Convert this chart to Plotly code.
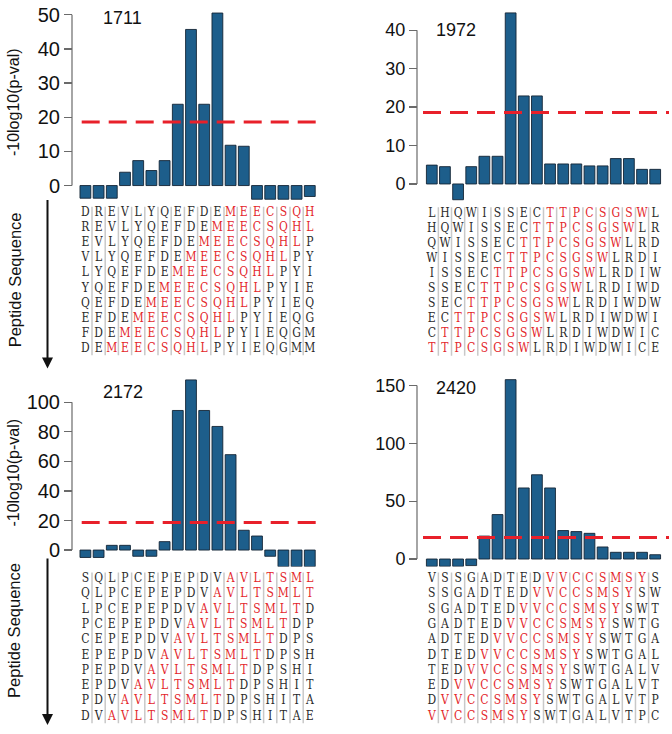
import plotly.graph_objects as go

# ---------------- data ----------------
panel_ids = ["1711", "1972", "2172", "2420"]

seq_1711 = "DREVLYQEFDEMEECSQHLPYIEQGMM"
seq_1972 = "LHQWISSECTTPCSGSWLRDIWDWICE"
seq_2172 = "SQLPCEPEPDVAVLTSMLTDPSHITAE"
seq_2420 = "VSSGADTEDVVCCSMSYSWTGALVTPC"

epitope_1711 = "MEECSQHL"
epitope_1972 = "TTPCSGSW"
epitope_2172 = "AVLTSMLT"
epitope_2420 = "VVCCSMSY"

vals_1711 = [-3.7, -3.7, -3.7, 3.9, 7.3, 4.4, 7.3, 23.8, 45.7, 23.8, 50.5, 11.8, 11.5,
             -4.0, -4.0, -4.0, -4.0, -3.2]
vals_1972 = [4.9, 4.5, -4.1, 4.5, 7.2, 7.2, 44.5, 22.9, 22.9, 5.2, 5.2, 5.2, 4.7, 4.7,
             6.6, 6.6, 3.8, 3.8]
vals_2172 = [-5.0, -5.0, 3.2, 3.2, -4.2, -4.2, 5.7, 94.5, 115.2, 94.5, 83.7, 64.6, 13.4,
             9.5, -4.2, -11.2, -11.2, -11.2]
vals_2420 = [-6.3, -6.3, -6.3, -5.7, 19.8, 38.4, 155.0, 61.4, 72.8, 61.4, 24.6, 23.7,
             22.2, 10.4, 5.8, 5.8, 5.8, 3.7]

ticks_1711 = [0, 10, 20, 30, 40, 50]
ticks_1972 = [0, 10, 20, 30, 40]
ticks_2172 = [0, 20, 40, 60, 80, 100]
ticks_2420 = [0, 50, 100, 150]

threshold = 18.6
n_cols = 18
n_rows = 10
y_title = "-10log10(p-val)"
seq_title = "Peptide Sequence"

# ---------------- style / layout ----------------
W, H = 672, 734
BAR = "#1d5e8b"
EDGE = "#142536"
AXC = "#6a6a6a"
RED = "#e8202a"
SEQ_RED = "#e3262b"
SEQ_BLK = "#2a2a2a"
SEP = "#c9c9c9"
SANS = "Arial, Liberation Sans, sans-serif"
MONO = "DejaVu Serif Condensed, DejaVu Serif, serif"


def pxx(px):
    return px / W


def pxy(py):
    return 1 - py / H


LEFT = dict(c1=85.4, pitch=13.2, axis=72.0, xl=58, xr=326, red=(81.7, 321.7), tick=20,
            title_x=123)
RIGHT = dict(c1=431.8, pitch=13.14, axis=417.0, xl=403, xr=672, red=(423.0, 669.0), tick=18,
             title_x=456)

panels = [
    dict(pid=panel_ids[0], seq=seq_1711, epi=epitope_1711, vals=vals_1711, ticks=ticks_1711,
         col=LEFT, zero=183.3, scale=3.43, yt=4, yb=201, row0=211.0, sp=15.15, gt=200, gb=362,
         title_y=15, left=True, ytitle_y=100, arrow=(197, 367), seq_y=278),
    dict(pid=panel_ids[1], seq=seq_1972, epi=epitope_1972, vals=vals_1972, ticks=ticks_1972,
         col=RIGHT, zero=181.7, scale=3.86, yt=4, yb=203, row0=211.5, sp=15.15, gt=200, gb=362,
         title_y=27, left=False),
    dict(pid=panel_ids[2], seq=seq_2172, epi=epitope_2172, vals=vals_2172, ticks=ticks_2172,
         col=LEFT, zero=549.3, scale=1.483, yt=372, yb=570, row0=578.3, sp=15.38, gt=566, gb=729,
         title_y=391, left=True, ytitle_y=472, arrow=(557, 725), seq_y=630),
    dict(pid=panel_ids[3], seq=seq_2420, epi=epitope_2420, vals=vals_2420, ticks=ticks_2420,
         col=RIGHT, zero=558.3, scale=1.162, yt=374, yb=570, row0=578.3, sp=15.38, gt=566, gb=729,
         title_y=387, left=False),
]

fig = go.Figure()
layout = dict(width=W, height=H, margin=dict(l=0, r=0, t=0, b=0), showlegend=False,
              plot_bgcolor="white", paper_bgcolor="white")
annotations = []

for i, p in enumerate(panels):
    c = p["col"]
    nb, ng = 2 * i + 1, 2 * i + 2
    xb = "x" if nb == 1 else f"x{nb}"
    yb_ = "y" if nb == 1 else f"y{nb}"
    xg, yg = f"x{ng}", f"y{ng}"
    kb = "" if nb == 1 else str(nb)

    def xd(px, c=c):
        return 1 + (px - c["c1"]) / c["pitch"]

    def yd(py, p=p):
        return (p["zero"] - py) / p["scale"]

    def rd(py, p=p):
        return (py - p["row0"]) / p["sp"]

    xrange_ = [xd(c["xl"]), xd(c["xr"])]
    cats = list(range(1, n_cols + 1))

    # bars
    fig.add_trace(go.Bar(x=cats, y=p["vals"], width=0.82,
                         marker=dict(color=BAR, line=dict(color=EDGE, width=0.9)),
                         xaxis=xb, yaxis=yb_, hoverinfo="skip"))
    # axis line (from 0 to last tick)
    fig.add_trace(go.Scatter(x=[xd(c["axis"]), xd(c["axis"])], y=[p["ticks"][0], p["ticks"][-1]],
                             mode="lines", line=dict(color=AXC, width=1.2),
                             xaxis=xb, yaxis=yb_, hoverinfo="skip"))
    # threshold
    fig.add_trace(go.Scatter(x=[xd(c["red"][0]), xd(c["red"][1])], y=[threshold, threshold],
                             mode="lines", line=dict(color=RED, width=3, dash="18px,9px"),
                             xaxis=xb, yaxis=yb_, hoverinfo="skip"))

    # column separators
    sx, sy = [], []
    for k in range(1, n_cols):
        sx += [k + 0.5, k + 0.5, None]
        sy += [-0.42, n_rows - 1 + 0.42, None]
    fig.add_trace(go.Scatter(x=sx, y=sy, mode="lines", line=dict(color=SEP, width=1.5),
                             xaxis=xg, yaxis=yg, hoverinfo="skip"))
    # letters
    start = p["seq"].find(p["epi"])
    lx, ly, lt, lc = [], [], [], []
    for r in range(n_rows):
        for col in range(n_cols):
            idx = r + col
            lx.append(col + 1)
            ly.append(r)
            lt.append(p["seq"][idx])
            lc.append(SEQ_RED if start <= idx < start + len(p["epi"]) else SEQ_BLK)
    fig.add_trace(go.Scatter(x=lx, y=ly, mode="text", text=lt,
                             textfont=dict(family=MONO, size=12, color=lc),
                             xaxis=xg, yaxis=yg, hoverinfo="skip"))

    layout[f"xaxis{kb}"] = dict(domain=[pxx(c["xl"]), pxx(c["xr"])], range=xrange_,
                                visible=False, anchor=yb_, fixedrange=True)
    layout[f"yaxis{kb}"] = dict(domain=[pxy(p["yb"]), pxy(p["yt"])],
                                range=[yd(p["yb"]), yd(p["yt"])],
                                anchor="free", position=pxx(c["axis"]),
                                tickvals=p["ticks"], ticks="outside", ticklen=8,
                                tickcolor=AXC, tickwidth=1.2, showgrid=False, zeroline=False,
                                showline=False, fixedrange=True,
                                tickfont=dict(family=SANS, size=c["tick"], color="#111"))
    layout[f"xaxis{ng}"] = dict(domain=[pxx(c["xl"]), pxx(c["xr"])], range=xrange_,
                                visible=False, anchor=yg, fixedrange=True)
    layout[f"yaxis{ng}"] = dict(domain=[pxy(p["gb"]), pxy(p["gt"])],
                                range=[rd(p["gb"]), rd(p["gt"])],
                                visible=False, anchor=xg, fixedrange=True)

    # panel title
    annotations.append(dict(text=p["pid"], x=pxx(c["title_x"]), y=pxy(p["title_y"]),
                            xref="paper", yref="paper", showarrow=False,
                            font=dict(family=SANS, size=18, color="#111"),
                            xanchor="center", yanchor="middle"))
    if p["left"]:
        annotations.append(dict(text=y_title, x=pxx(13.5), y=pxy(p["ytitle_y"]),
                                xref="paper", yref="paper", showarrow=False, textangle=-90,
                                font=dict(family=SANS, size=16, color="#111"),
                                xanchor="center", yanchor="middle"))
        annotations.append(dict(text=seq_title, x=pxx(14.5), y=pxy(p["seq_y"]),
                                xref="paper", yref="paper", showarrow=False, textangle=-90,
                                font=dict(family=SANS, size=16.5, color="#111"),
                                xanchor="center", yanchor="middle"))
        a0, a1 = p["arrow"]
        annotations.append(dict(text="", x=pxx(47.5), y=pxy(a1), xref="paper", yref="paper",
                                showarrow=True, ax=0, ay=-(a1 - a0), arrowhead=2,
                                arrowsize=1.1, arrowwidth=2, arrowcolor="#111", standoff=0))

layout["annotations"] = annotations
fig.update_layout(**layout)
fig.write_html("out.html", config={"displayModeBar": False, "staticPlot": True},
               post_script="document.body.style.margin='0';document.body.style.padding='0';")
